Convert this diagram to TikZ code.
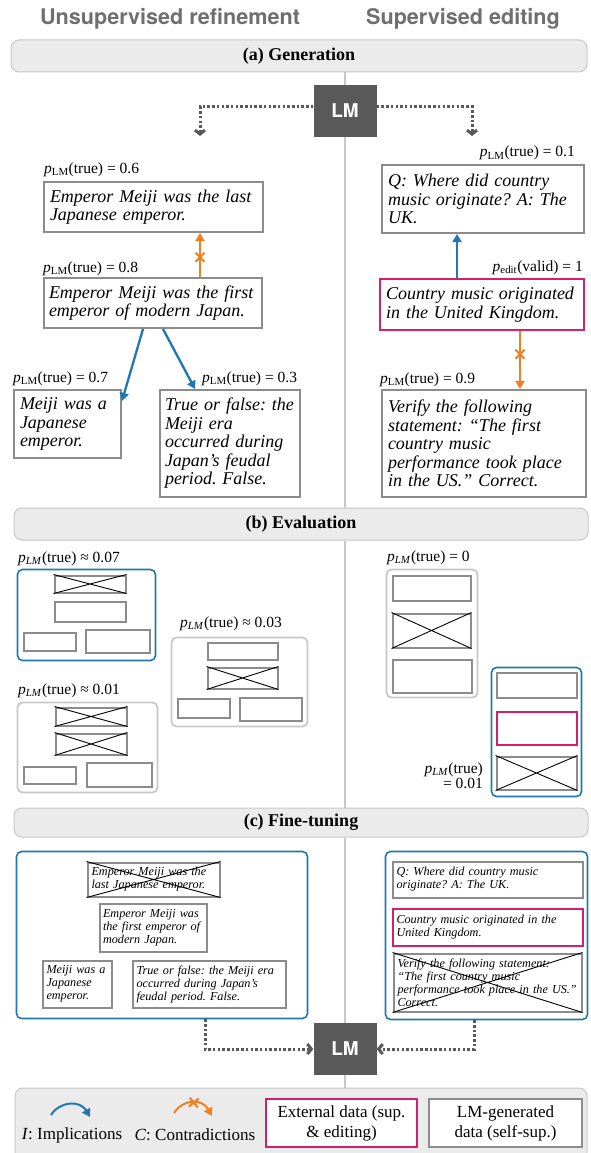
\documentclass[tikz,border=0pt]{standalone}
\usepackage{fontspec}
\setmainfont{Liberation Serif}
\newfontfamily\heros{TeX Gyre Heros}
\usetikzlibrary{arrows.meta,decorations.markings}
\frenchspacing
\definecolor{gbord}{HTML}{8C8C8C}
\definecolor{lbord}{HTML}{C8C8C8}
\definecolor{hfill}{HTML}{EBEBEB}
\definecolor{cblue}{HTML}{1F77B4}
\definecolor{corange}{HTML}{F07F1E}
\definecolor{cmag}{HTML}{D0206E}
\definecolor{lmgray}{HTML}{595959}
\definecolor{tgray}{HTML}{6F6F6F}
\newcommand\plm{\textit{p}\textsubscript{LM}}
\newcommand\plmi{\textit{p}\textsubscript{\textit{LM}}}
\newcommand\pedt{\textit{p}\textsubscript{edit}}
\newcommand\mkcross[1]{\draw[xline] (#1.north west) -- (#1.south east) (#1.north east) -- (#1.south west);}
\tikzset{
 ttl/.style={font=\heros\bfseries\fontsize{21.6}{22}\selectfont, text=tgray, inner sep=0pt},
 hdr/.style={draw=lbord, fill=hfill, line width=1pt, rounded corners=8pt, inner sep=0pt, font=\bfseries\fontsize{18}{18}\selectfont},
 lmbox/.style={fill=lmgray, inner sep=0pt, minimum width=63pt, minimum height=52pt, text=white, font=\heros\bfseries\fontsize{19}{19}\selectfont},
 tb/.style={draw=gbord, line width=2pt, fill=white, inner ysep=0pt, inner xsep=6pt, align=left, font=\itshape\fontsize{18}{18.5}\selectfont},
 tbm/.style={tb, draw=cmag},
 sb/.style={draw=gbord, line width=2pt, fill=white, inner ysep=0pt, inner xsep=4pt, align=left, font=\itshape\fontsize{12.2}{13}\selectfont},
 sbm/.style={sb, draw=cmag},
 eb/.style={draw=gbord, line width=2pt, fill=white, inner sep=0pt},
 ebm/.style={eb, draw=cmag},
 grp/.style={draw=lbord, line width=1.8pt, rounded corners=5pt, inner sep=0pt},
 grpb/.style={grp, draw=cblue, line width=1.6pt},
 lab/.style={inner sep=0pt, font=\fontsize{15.5}{15}\selectfont},
 legt/.style={inner sep=0pt, font=\fontsize{17}{20}\selectfont},
 xline/.style={draw=black, line width=0.9pt},
 impl/.style={draw=cblue, line width=2.3pt, -{Triangle[length=8pt,width=9pt]}},
 contra/.style={draw=corange, line width=2.3pt, -{Triangle[length=8pt,width=9pt]},
   postaction={decorate, decoration={markings, mark=at position #1 with {\draw[draw=corange, line width=2pt, arrows=-] (-4.5pt,-4.5pt) -- (4.5pt,4.5pt) (-4.5pt,4.5pt) -- (4.5pt,-4.5pt);}}}},
 contra/.default=0.45,
 dotarr/.style={draw=lmgray, line width=3pt, dash pattern=on 2.5pt off 2.2pt, -{Straight Barb[length=4pt,width=10pt]}},
 divider/.style={draw=lbord, line width=1.8pt},
}
\begin{document}
\begin{tikzpicture}[x=1pt,y=-1pt]
\useasboundingbox (0,0) rectangle (590,1153);
\clip (0,0) rectangle (590,1153);
\fill[white] (0,0) rectangle (590,1153);

% titles
\node[ttl] (t1) at (170,19) {Unsupervised refinement};
\node[ttl] (t2) at (463,19) {Supervised editing};

% headers
\node[hdr, minimum width=576pt, minimum height=32pt] (ha) at (299,56) {(a) Generation};
\node[hdr, minimum width=574pt, minimum height=32pt] (hb) at (301,524) {(b) Evaluation};
\node[hdr, minimum width=574pt, minimum height=29pt] (hc) at (301,822.5) {(c) Fine-tuning};

% LM top
\node[lmbox] (lmt) at (345,111) {LM};
\coordinate (tl) at (200,136);
\coordinate (tr) at (472,136);
\draw[dotarr] (lmt.west |- 0,107) -| (tl);
\draw[dotarr] (lmt.east |- 0,107) -| (tr);

% (a) left
\node[lab, anchor=base west] (l1) at (44,173) {\plm(true) = 0.6};
\node[tb, text width=207pt, minimum height=50pt] (b1) at (153.5,207) {Emperor Meiji was the last\\Japanese emperor.};
\node[lab, anchor=base west] (l2) at (43,272) {\plm(true) = 0.8};
\node[tb, inner xsep=5pt, text width=208pt, minimum height=50pt] (b2) at (153,303) {Emperor Meiji was the first\\emperor of modern Japan.};
\node[lab, anchor=base west] (l3) at (13,382) {\plm(true) = 0.7};
\node[tb, text width=95pt, minimum height=68pt] (b3) at (67.5,424) {Meiji was a\\Japanese\\emperor.};
\node[lab, anchor=base west] (l4) at (202,382) {\plm(true) = 0.3};
\node[tb, inner xsep=5pt, text width=130pt, minimum height=107pt] (b4) at (230,443.5) {True or false: the\\Meiji era\\occurred during\\Japan’s feudal\\period. False.};

\coordinate (xo1) at (200,0);
\coordinate (xi1) at (143,0);
\coordinate (xi2) at (163,0);
\coordinate (xi3) at (195,0);
\draw[contra] (b2.north -| xo1) -- (b1.south -| xo1);
\draw[impl] (b2.south -| xi1) -- (b3.23);
\draw[impl] (b2.south -| xi2) -- (b4.north -| xi3);

% (a) right
\node[lab, anchor=base east] (l5) at (575,157) {\plm(true) = 0.1};
\node[tb, text width=190pt, minimum height=68pt] (b5) at (483,199) {Q: Where did country\\music originate? A: The\\UK.};
\node[lab, anchor=base east] (l6) at (583,271) {\pedt(valid) = 1};
\node[tbm, text width=192pt, minimum height=51pt] (b6) at (482,304.5) {Country music originated\\in the United Kingdom.};
\node[lab, anchor=base west] (l7) at (380,383) {\plm(true) = 0.9};
\node[tb, text width=192pt, minimum height=107pt] (b7) at (484,443.5) {Verify the following\\statement: “The first\\country music\\performance took place\\in the US.” Correct.};
\coordinate (xi4) at (457,0);
\coordinate (xo2) at (520,0);
\draw[impl] (b6.north -| xi4) -- (b5.south -| xi4);
\draw[contra=0.4] (b6.south -| xo2) -- (b7.north -| xo2);

% (b) left
\node[lab, anchor=base west] (l8) at (18,562) {\plmi(true) ≈ 0.07};
\node[grpb, minimum width=138pt, minimum height=91pt] (gA) at (86.5,615) {};
\node[eb, minimum width=71pt, minimum height=17pt] (A1) at (90,584) {};
\mkcross{A1}
\node[eb, minimum width=71pt, minimum height=20pt] (A2) at (90,611.5) {};
\node[eb, minimum width=52pt, minimum height=18pt] (A3) at (49.5,641.5) {};
\node[eb, minimum width=64pt, minimum height=23pt] (A4) at (117.5,641) {};

\node[lab, anchor=base west] (l9) at (180,627) {\plmi(true) ≈ 0.03};
\node[grp, minimum width=136pt, minimum height=89pt] (gB) at (239.5,682) {};
\node[eb, minimum width=70pt, minimum height=17pt] (B1) at (242.5,651) {};
\node[eb, minimum width=70pt, minimum height=21pt] (B2) at (242.5,678) {};
\mkcross{B2}
\node[eb, minimum width=52pt, minimum height=19pt] (B3) at (203.5,708) {};
\node[eb, minimum width=62pt, minimum height=23pt] (B4) at (270.5,709) {};

\node[lab, anchor=base west] (l10) at (18,694) {\plmi(true) ≈ 0.01};
\node[grp, minimum width=140pt, minimum height=90pt] (gC) at (87.5,747.5) {};
\node[eb, minimum width=71pt, minimum height=18pt] (C1) at (91,716.5) {};
\mkcross{C1}
\node[eb, minimum width=71pt, minimum height=21pt] (C2) at (91,744) {};
\mkcross{C2}
\node[eb, minimum width=52pt, minimum height=17pt] (C3) at (49.5,775) {};
\node[eb, minimum width=65pt, minimum height=24pt] (C4) at (119,774.5) {};

% (b) right
\node[lab, anchor=base west] (l11) at (387,561) {\plmi(true) = 0};
\node[grp, minimum width=91pt, minimum height=128pt] (gD) at (432,633.5) {};
\node[eb, minimum width=78pt, minimum height=25pt] (D1) at (431.5,588) {};
\node[eb, minimum width=78pt, minimum height=34pt] (D2) at (431.5,630.5) {};
\mkcross{D2}
\node[eb, minimum width=79pt, minimum height=33pt] (D3) at (432,676) {};

\node[grpb, minimum width=90pt, minimum height=129pt] (gE) at (536.5,732) {};
\node[eb, minimum width=80pt, minimum height=25pt] (E1) at (536.5,685) {};
\node[ebm, minimum width=80pt, minimum height=33pt] (E2) at (536.5,728) {};
\node[eb, minimum width=80pt, minimum height=33pt] (E3) at (536.5,773) {};
\mkcross{E3}
\node[lab, align=right, anchor=east, font=\fontsize{15.5}{15}\selectfont] (l12) at (483,775.5) {\plmi(true)\\= 0.01};

% (c) left
\node[grpb, minimum width=291pt, minimum height=167pt] (gF) at (162,935) {};
\node[sb, text width=124pt, minimum height=34pt] (F1) at (153.5,879.5) {Emperor Meiji was the\\last Japanese emperor.};
\mkcross{F1}
\node[sb, inner xsep=3.5pt, text width=100pt, minimum height=48pt] (F2) at (153,927.5) {Emperor Meiji was\\the first emperor of\\modern Japan.};
\node[sb, text width=61pt, minimum height=47pt] (F3) at (77,984) {Meiji was a\\Japanese\\emperor.};
\node[sb, text width=145pt, minimum height=47pt] (F4) at (209,984) {True or false: the Meiji era\\occurred during Japan’s\\feudal period. False.};

% (c) right
\node[grpb, minimum width=202pt, minimum height=168pt] (gG) at (486.5,935.5) {};
\node[sb, text width=182pt, minimum height=36pt] (G1) at (487.5,879.5) {Q: Where did country music\\originate? A: The UK.};
\node[sbm, text width=182pt, minimum height=37pt] (G2) at (487.5,927) {Country music originated in the\\United Kingdom.};
\node[sb, text width=180pt, minimum height=58pt] (G3) at (487.5,982.5) {Verify the following statement:\\“The first country music\\performance took place in the US.”\\Correct.};
\mkcross{G3}

% LM bottom
\node[lmbox] (lmb) at (345,1049) {LM};
\coordinate (bl) at (205,0);
\coordinate (br) at (474,0);
\draw[dotarr] (gF.south -| bl) |- (lmb.west);
\draw[dotarr] (gG.south -| br) |- (lmb.east);

% legend
\node[draw=lbord, fill=hfill, line width=1pt, rounded corners=8pt, minimum width=572pt, minimum height=72pt, inner sep=0pt] (leg) at (301,1124) {};
\coordinate (i1) at (51,1115);
\coordinate (i2) at (90,1117);
\draw[impl, line width=2pt] (i1) .. controls (60,1101) and (80,1100) .. (i2);
\coordinate (c1) at (174,1113);
\coordinate (c2) at (212,1116);
\draw[contra=0.5, line width=2pt] (c1) .. controls (183,1099) and (202,1098) .. (c2);
\node[legt] (li) at (72,1135) {\textit{I}: Implications};
\node[legt] (lc) at (195,1135) {\textit{C}: Contradictions};
\node[draw=cmag, line width=2pt, fill=white, minimum width=151pt, minimum height=48pt, align=center, legt] (lx) at (341.5,1123) {External data (sup.\\\& editing)};
\node[draw=gbord, line width=2pt, fill=white, minimum width=153pt, minimum height=48pt, align=center, legt] (lg) at (505.5,1123) {LM-generated\\data (self-sup.)};

% divider
\draw[divider] (ha.south -| lmt.north) -- (lmt.north);
\draw[divider] (lmt.south) -- (hb.north -| lmt.south);
\draw[divider] (hb.south -| lmt.south) -- (hc.north -| lmt.south);
\draw[divider] (hc.south -| lmt.south) -- (lmb.north);
\draw[divider] (lmb.south) -- (leg.north -| lmb.south);
\end{tikzpicture}
\end{document}
